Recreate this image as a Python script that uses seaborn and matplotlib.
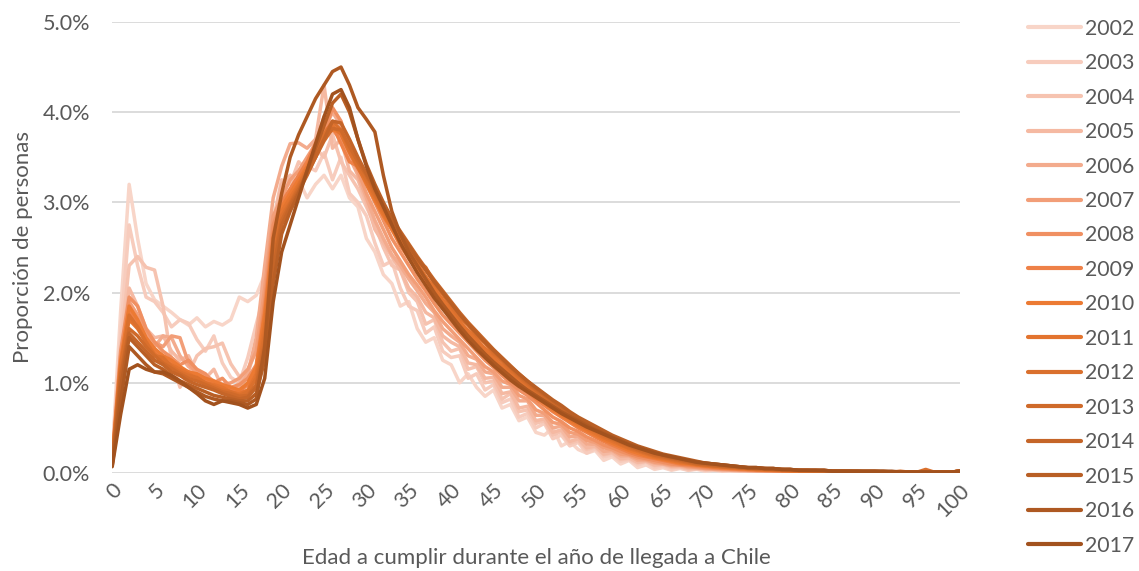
import numpy as np
import pandas as pd
import matplotlib
matplotlib.use("Agg")
import matplotlib.pyplot as plt
import seaborn as sns

# Edades 0..100 y proporción de personas (%) por año de llegada
edades = list(range(0, 101))
anios = ["2002", "2003", "2004", "2005", "2006", "2007", "2008", "2009",
         "2010", "2011", "2012", "2013", "2014", "2015", "2016", "2017"]

p2002 = [0.20, 1.80, 3.20, 2.60, 2.10, 1.92, 1.85, 1.78, 1.70, 1.64,
         1.72, 1.62, 1.68, 1.64, 1.70, 1.95, 1.90, 1.97, 2.20, 2.75,
         3.15, 3.05, 3.25, 3.05, 3.20, 3.30, 3.15, 3.30, 3.05, 2.95,
         2.60, 2.45, 2.20, 2.10, 1.85, 1.90, 1.60, 1.45, 1.50, 1.25,
         1.20, 1.00, 1.10, 0.95, 0.85, 0.92, 0.72, 0.76, 0.58, 0.62,
         0.45, 0.42, 0.50, 0.30, 0.35, 0.26, 0.22, 0.25, 0.14, 0.18,
         0.10, 0.14, 0.06, 0.09, 0.04, 0.06, 0.03, 0.05, 0.03, 0.04,
         0.02, 0.03, 0.02, 0.02, 0.01, 0.02, 0.01, 0.02, 0.01, 0.01,
         0.01, 0.01, 0.01, 0.01, 0.00, 0.01, 0.01, 0.00, 0.01, 0.00,
         0.00, 0.01, 0.00, 0.00, 0.01, 0.00, 0.00, 0.01, 0.00, 0.00,
         0.01]
p2003 = [0.18, 1.55, 2.75, 2.30, 1.95, 1.90, 1.78, 1.62, 1.70, 1.66,
         1.48, 1.35, 1.52, 1.22, 1.06, 1.00, 1.28, 1.65, 2.00, 2.65,
         3.10, 3.30, 3.20, 3.40, 3.35, 3.55, 3.25, 3.50, 3.10, 3.00,
         2.85, 2.55, 2.30, 2.35, 2.05, 1.85, 1.80, 1.55, 1.62, 1.35,
         1.28, 1.30, 1.05, 1.10, 0.92, 0.98, 0.78, 0.82, 0.62, 0.66,
         0.50, 0.55, 0.38, 0.42, 0.30, 0.34, 0.22, 0.27, 0.18, 0.20,
         0.13, 0.15, 0.09, 0.12, 0.06, 0.08, 0.04, 0.06, 0.03, 0.05,
         0.03, 0.04, 0.02, 0.03, 0.02, 0.02, 0.01, 0.02, 0.01, 0.02,
         0.01, 0.01, 0.01, 0.02, 0.01, 0.01, 0.00, 0.01, 0.01, 0.00,
         0.01, 0.00, 0.01, 0.00, 0.01, 0.00, 0.01, 0.00, 0.00, 0.01,
         0.01]
p2004 = [0.16, 1.40, 2.30, 2.40, 2.28, 2.25, 1.85, 1.25, 0.95, 1.10,
         1.30, 1.38, 1.40, 1.44, 1.21, 1.07, 1.12, 1.45, 2.10, 2.80,
         3.25, 3.20, 3.45, 3.35, 3.60, 3.50, 3.75, 3.45, 3.30, 3.15,
         2.95, 2.75, 2.50, 2.30, 2.25, 2.00, 1.90, 1.65, 1.70, 1.45,
         1.35, 1.38, 1.15, 1.18, 1.00, 1.02, 0.82, 0.88, 0.68, 0.70,
         0.55, 0.58, 0.42, 0.46, 0.33, 0.36, 0.26, 0.29, 0.20, 0.22,
         0.15, 0.16, 0.11, 0.13, 0.08, 0.09, 0.06, 0.07, 0.04, 0.05,
         0.04, 0.04, 0.03, 0.03, 0.02, 0.03, 0.02, 0.02, 0.02, 0.01,
         0.02, 0.01, 0.01, 0.01, 0.01, 0.01, 0.01, 0.01, 0.00, 0.01,
         0.01, 0.00, 0.01, 0.01, 0.00, 0.01, 0.00, 0.01, 0.00, 0.00,
         0.01]
p2005 = [0.15, 1.30, 2.05, 1.85, 1.60, 1.50, 1.52, 1.35, 1.25, 1.30,
         1.10, 1.05, 1.15, 0.95, 0.90, 1.00, 1.10, 1.40, 2.00, 2.75,
         3.20, 3.30, 3.15, 3.40, 3.70, 4.30, 3.60, 3.70, 3.35, 3.25,
         3.00, 2.70, 2.55, 2.40, 2.25, 2.05, 1.95, 1.78, 1.72, 1.52,
         1.45, 1.40, 1.22, 1.20, 1.05, 1.06, 0.88, 0.90, 0.72, 0.74,
         0.58, 0.60, 0.45, 0.48, 0.35, 0.38, 0.28, 0.30, 0.21, 0.23,
         0.16, 0.17, 0.12, 0.13, 0.09, 0.10, 0.07, 0.07, 0.05, 0.05,
         0.04, 0.04, 0.03, 0.03, 0.03, 0.02, 0.02, 0.02, 0.02, 0.02,
         0.01, 0.02, 0.01, 0.01, 0.01, 0.01, 0.01, 0.01, 0.01, 0.00,
         0.01, 0.01, 0.00, 0.01, 0.01, 0.00, 0.01, 0.00, 0.01, 0.00,
         0.02]
p2006 = [0.15, 1.25, 1.85, 1.70, 1.50, 1.40, 1.52, 1.50, 1.30, 1.18,
         1.12, 1.05, 1.00, 0.98, 0.93, 0.95, 1.10, 1.50, 2.30, 3.05,
         3.40, 3.65, 3.66, 3.60, 3.70, 3.80, 4.00, 3.85, 3.50, 3.30,
         3.05, 2.80, 2.60, 2.42, 2.30, 2.15, 2.02, 1.88, 1.78, 1.60,
         1.52, 1.45, 1.30, 1.26, 1.12, 1.10, 0.95, 0.95, 0.80, 0.80,
         0.64, 0.64, 0.50, 0.52, 0.40, 0.41, 0.32, 0.32, 0.24, 0.25,
         0.19, 0.19, 0.14, 0.14, 0.11, 0.10, 0.08, 0.08, 0.06, 0.06,
         0.05, 0.04, 0.04, 0.03, 0.03, 0.03, 0.02, 0.02, 0.02, 0.02,
         0.02, 0.01, 0.02, 0.01, 0.01, 0.01, 0.01, 0.01, 0.01, 0.01,
         0.01, 0.00, 0.01, 0.01, 0.00, 0.01, 0.01, 0.00, 0.00, 0.01,
         0.02]
p2007 = [0.16, 1.30, 1.90, 1.75, 1.55, 1.45, 1.40, 1.52, 1.50, 1.22,
         1.10, 1.08, 1.02, 0.98, 1.00, 1.05, 1.15, 1.35, 2.05, 2.85,
         3.05, 3.25, 3.35, 3.50, 3.65, 3.95, 3.80, 3.70, 3.55, 3.35,
         3.10, 2.90, 2.70, 2.50, 2.35, 2.20, 2.08, 1.95, 1.80, 1.68,
         1.58, 1.48, 1.38, 1.28, 1.18, 1.12, 1.02, 0.98, 0.86, 0.82,
         0.70, 0.66, 0.56, 0.54, 0.45, 0.43, 0.36, 0.34, 0.28, 0.26,
         0.21, 0.20, 0.16, 0.15, 0.12, 0.11, 0.09, 0.09, 0.07, 0.06,
         0.05, 0.05, 0.04, 0.04, 0.03, 0.03, 0.03, 0.02, 0.02, 0.02,
         0.02, 0.02, 0.01, 0.01, 0.01, 0.01, 0.01, 0.01, 0.01, 0.01,
         0.01, 0.01, 0.00, 0.01, 0.01, 0.00, 0.01, 0.00, 0.01, 0.00,
         0.02]
p2008 = [0.15, 1.35, 1.95, 1.85, 1.60, 1.45, 1.35, 1.28, 1.20, 1.25,
         1.15, 1.10, 1.00, 1.05, 0.95, 0.98, 1.05, 1.20, 1.90, 2.75,
         3.00, 3.10, 3.20, 3.35, 3.50, 3.75, 4.05, 3.90, 3.60, 3.40,
         3.20, 3.00, 2.80, 2.60, 2.45, 2.30, 2.15, 2.02, 1.88, 1.75,
         1.65, 1.55, 1.45, 1.35, 1.25, 1.17, 1.08, 1.00, 0.92, 0.86,
         0.78, 0.70, 0.62, 0.57, 0.50, 0.46, 0.40, 0.36, 0.31, 0.28,
         0.24, 0.21, 0.18, 0.16, 0.14, 0.12, 0.10, 0.09, 0.08, 0.07,
         0.06, 0.05, 0.05, 0.04, 0.04, 0.03, 0.03, 0.03, 0.02, 0.02,
         0.02, 0.02, 0.02, 0.01, 0.01, 0.01, 0.01, 0.01, 0.01, 0.01,
         0.01, 0.01, 0.01, 0.01, 0.00, 0.01, 0.01, 0.00, 0.01, 0.01,
         0.02]
p2009 = [0.14, 1.20, 1.80, 1.65, 1.45, 1.35, 1.30, 1.22, 1.15, 1.12,
         1.08, 1.02, 1.00, 0.95, 0.92, 0.90, 0.98, 1.15, 1.80, 2.65,
         3.00, 3.15, 3.30, 3.45, 3.65, 3.80, 3.85, 3.65, 3.45, 3.40,
         3.30, 3.10, 2.90, 2.70, 2.52, 2.38, 2.25, 2.10, 1.97, 1.83,
         1.72, 1.62, 1.52, 1.42, 1.32, 1.22, 1.14, 1.06, 0.98, 0.90,
         0.82, 0.75, 0.68, 0.62, 0.56, 0.50, 0.45, 0.40, 0.35, 0.31,
         0.27, 0.23, 0.20, 0.18, 0.16, 0.14, 0.12, 0.10, 0.09, 0.08,
         0.07, 0.06, 0.05, 0.05, 0.04, 0.04, 0.03, 0.03, 0.03, 0.02,
         0.02, 0.02, 0.02, 0.02, 0.01, 0.01, 0.01, 0.01, 0.01, 0.01,
         0.01, 0.01, 0.01, 0.01, 0.01, 0.01, 0.00, 0.01, 0.01, 0.00,
         0.02]
p2010 = [0.15, 1.25, 1.85, 1.70, 1.50, 1.38, 1.30, 1.25, 1.18, 1.12,
         1.10, 1.05, 1.02, 0.98, 0.95, 0.92, 1.00, 1.18, 1.75, 2.60,
         2.95, 3.10, 3.25, 3.40, 3.60, 3.75, 3.80, 3.78, 3.60, 3.40,
         3.20, 3.02, 2.85, 2.70, 2.55, 2.42, 2.28, 2.15, 2.00, 1.88,
         1.75, 1.65, 1.55, 1.45, 1.35, 1.26, 1.17, 1.08, 1.00, 0.93,
         0.85, 0.78, 0.70, 0.64, 0.58, 0.52, 0.47, 0.42, 0.37, 0.33,
         0.29, 0.25, 0.22, 0.19, 0.17, 0.15, 0.13, 0.11, 0.10, 0.09,
         0.08, 0.07, 0.06, 0.05, 0.05, 0.04, 0.04, 0.03, 0.03, 0.03,
         0.02, 0.02, 0.02, 0.02, 0.02, 0.01, 0.01, 0.01, 0.01, 0.01,
         0.01, 0.01, 0.01, 0.01, 0.01, 0.01, 0.01, 0.00, 0.01, 0.01,
         0.02]
p2011 = [0.14, 1.15, 1.70, 1.60, 1.45, 1.32, 1.25, 1.20, 1.15, 1.10,
         1.05, 1.00, 0.98, 0.95, 0.90, 0.88, 0.92, 1.10, 1.65, 2.55,
         2.90, 3.05, 3.20, 3.38, 3.55, 3.70, 3.85, 3.75, 3.55, 3.38,
         3.22, 3.05, 2.88, 2.72, 2.58, 2.45, 2.32, 2.18, 2.05, 1.92,
         1.80, 1.68, 1.58, 1.48, 1.38, 1.28, 1.19, 1.10, 1.02, 0.95,
         0.87, 0.80, 0.73, 0.66, 0.60, 0.54, 0.49, 0.44, 0.39, 0.35,
         0.31, 0.27, 0.24, 0.21, 0.18, 0.16, 0.14, 0.12, 0.11, 0.09,
         0.08, 0.07, 0.07, 0.06, 0.05, 0.05, 0.04, 0.04, 0.03, 0.03,
         0.03, 0.02, 0.02, 0.02, 0.02, 0.02, 0.01, 0.01, 0.01, 0.01,
         0.01, 0.01, 0.01, 0.01, 0.01, 0.01, 0.01, 0.01, 0.01, 0.01,
         0.02]
p2012 = [0.14, 1.20, 1.75, 1.62, 1.45, 1.30, 1.28, 1.18, 1.12, 1.08,
         1.06, 1.00, 0.96, 0.92, 0.90, 0.86, 0.90, 1.05, 1.55, 2.45,
         2.85, 3.00, 3.18, 3.35, 3.55, 3.75, 3.90, 3.80, 3.58, 3.40,
         3.25, 3.08, 2.92, 2.75, 2.60, 2.50, 2.35, 2.28, 2.10, 1.98,
         1.85, 1.72, 1.64, 1.52, 1.44, 1.32, 1.24, 1.14, 1.06, 0.98,
         0.90, 0.83, 0.75, 0.69, 0.62, 0.56, 0.51, 0.46, 0.41, 0.37,
         0.32, 0.28, 0.25, 0.22, 0.19, 0.17, 0.15, 0.13, 0.11, 0.10,
         0.09, 0.08, 0.07, 0.06, 0.06, 0.05, 0.04, 0.04, 0.04, 0.03,
         0.03, 0.03, 0.02, 0.02, 0.02, 0.02, 0.02, 0.01, 0.01, 0.01,
         0.01, 0.01, 0.01, 0.02, 0.01, 0.01, 0.04, 0.01, 0.01, 0.01,
         0.02]
p2013 = [0.13, 1.10, 1.60, 1.52, 1.40, 1.30, 1.22, 1.16, 1.10, 1.05,
         1.02, 0.98, 0.94, 0.90, 0.88, 0.85, 0.86, 0.98, 1.45, 2.35,
         2.80, 2.98, 3.15, 3.32, 3.50, 3.68, 3.82, 3.80, 3.62, 3.45,
         3.30, 3.12, 2.95, 2.80, 2.65, 2.52, 2.38, 2.25, 2.12, 2.00,
         1.88, 1.76, 1.65, 1.55, 1.45, 1.35, 1.26, 1.17, 1.08, 1.00,
         0.92, 0.85, 0.78, 0.71, 0.64, 0.58, 0.53, 0.48, 0.43, 0.38,
         0.34, 0.30, 0.26, 0.23, 0.20, 0.18, 0.16, 0.14, 0.12, 0.10,
         0.09, 0.08, 0.07, 0.07, 0.06, 0.05, 0.05, 0.04, 0.04, 0.03,
         0.03, 0.03, 0.03, 0.02, 0.02, 0.02, 0.02, 0.02, 0.01, 0.01,
         0.01, 0.01, 0.01, 0.01, 0.01, 0.01, 0.01, 0.01, 0.01, 0.01,
         0.02]
p2014 = [0.12, 1.05, 1.55, 1.45, 1.35, 1.25, 1.20, 1.12, 1.08, 1.02,
         0.98, 0.95, 0.92, 0.88, 0.85, 0.82, 0.84, 0.95, 1.35, 2.25,
         2.75, 2.95, 3.12, 3.30, 3.50, 3.70, 3.90, 3.88, 3.70, 3.50,
         3.32, 3.15, 2.98, 2.82, 2.68, 2.54, 2.40, 2.27, 2.14, 2.02,
         1.90, 1.78, 1.67, 1.57, 1.47, 1.37, 1.28, 1.19, 1.10, 1.02,
         0.94, 0.87, 0.80, 0.73, 0.66, 0.60, 0.55, 0.50, 0.45, 0.40,
         0.36, 0.32, 0.28, 0.25, 0.22, 0.19, 0.17, 0.15, 0.13, 0.11,
         0.10, 0.09, 0.08, 0.07, 0.06, 0.06, 0.05, 0.05, 0.04, 0.04,
         0.03, 0.03, 0.03, 0.03, 0.02, 0.02, 0.02, 0.02, 0.02, 0.01,
         0.01, 0.01, 0.01, 0.01, 0.01, 0.01, 0.01, 0.01, 0.01, 0.01,
         0.02]
p2015 = [0.10, 0.95, 1.50, 1.40, 1.30, 1.20, 1.15, 1.08, 1.02, 0.98,
         0.94, 0.90, 0.86, 0.84, 0.82, 0.80, 0.80, 0.88, 1.25, 2.10,
         2.65, 2.90, 3.10, 3.35, 3.60, 3.85, 4.10, 4.20, 4.00, 3.70,
         3.42, 3.20, 3.00, 2.82, 2.66, 2.52, 2.38, 2.25, 2.12, 2.00,
         1.88, 1.76, 1.65, 1.55, 1.45, 1.36, 1.27, 1.18, 1.10, 1.02,
         0.95, 0.88, 0.81, 0.75, 0.68, 0.62, 0.57, 0.52, 0.47, 0.42,
         0.38, 0.34, 0.30, 0.27, 0.24, 0.21, 0.19, 0.17, 0.15, 0.13,
         0.11, 0.10, 0.09, 0.08, 0.07, 0.06, 0.06, 0.05, 0.05, 0.04,
         0.04, 0.03, 0.03, 0.03, 0.03, 0.02, 0.02, 0.02, 0.02, 0.02,
         0.02, 0.01, 0.01, 0.01, 0.01, 0.01, 0.01, 0.01, 0.01, 0.01,
         0.02]
p2016 = [0.08, 0.80, 1.40, 1.30, 1.20, 1.12, 1.10, 1.05, 1.00, 0.95,
         0.90, 0.85, 0.82, 0.80, 0.80, 0.78, 0.76, 0.82, 1.40, 2.60,
         3.10, 3.50, 3.75, 3.95, 4.15, 4.30, 4.45, 4.50, 4.30, 4.05,
         3.92, 3.78, 3.30, 2.90, 2.65, 2.45, 2.30, 2.15, 2.00, 1.87,
         1.75, 1.63, 1.52, 1.42, 1.32, 1.23, 1.15, 1.07, 0.99, 0.92,
         0.86, 0.80, 0.74, 0.68, 0.63, 0.58, 0.53, 0.48, 0.44, 0.40,
         0.36, 0.32, 0.29, 0.26, 0.23, 0.20, 0.18, 0.16, 0.14, 0.12,
         0.11, 0.10, 0.09, 0.08, 0.07, 0.06, 0.06, 0.05, 0.05, 0.04,
         0.04, 0.03, 0.03, 0.03, 0.03, 0.02, 0.02, 0.02, 0.02, 0.02,
         0.02, 0.02, 0.01, 0.01, 0.01, 0.01, 0.01, 0.01, 0.01, 0.01,
         0.02]
p2017 = [0.07, 0.65, 1.15, 1.20, 1.15, 1.12, 1.12, 1.08, 1.02, 0.95,
         0.88, 0.80, 0.76, 0.80, 0.78, 0.76, 0.72, 0.76, 1.05, 1.90,
         2.45, 2.75, 3.05, 3.35, 3.65, 3.95, 4.20, 4.25, 4.05, 3.70,
         3.40, 3.15, 2.95, 2.75, 2.55, 2.38, 2.22, 2.08, 1.94, 1.82,
         1.70, 1.58, 1.47, 1.37, 1.28, 1.19, 1.11, 1.03, 0.96, 0.90,
         0.84, 0.78, 0.72, 0.66, 0.61, 0.56, 0.51, 0.47, 0.43, 0.39,
         0.35, 0.31, 0.28, 0.25, 0.22, 0.20, 0.18, 0.16, 0.14, 0.12,
         0.11, 0.10, 0.09, 0.08, 0.07, 0.06, 0.06, 0.05, 0.05, 0.04,
         0.04, 0.03, 0.03, 0.03, 0.03, 0.02, 0.02, 0.02, 0.02, 0.02,
         0.02, 0.02, 0.02, 0.01, 0.01, 0.01, 0.01, 0.01, 0.01, 0.01,
         0.02]

colores = ["#F8D5C8", "#F7CCBD", "#F6C3B0", "#F5B9A2", "#F3AB8D", "#F29E78",
           "#F09062", "#EE8148", "#EC7A33", "#E3742F", "#DA702D", "#CF6A2A",
           "#C56528", "#B95F25", "#AE5922", "#A2521E"]

series = [p2002, p2003, p2004, p2005, p2006, p2007, p2008, p2009,
          p2010, p2011, p2012, p2013, p2014, p2015, p2016, p2017]

df = pd.DataFrame({
    "edad": edades * len(anios),
    "anio": [a for a in anios for _ in edades],
    "prop": [v for s in series for v in s],
})

sns.set_style("white")
plt.rcParams["font.family"] = ["Lato", "DejaVu Sans"]
gris = "#595959"

fig = plt.figure(figsize=(11.39, 5.71), dpi=100)
ax = fig.add_axes([0.0985, 0.1716, 0.744, 0.79])

sns.lineplot(data=df, x="edad", y="prop", hue="anio", hue_order=anios,
             palette=colores, linewidth=2.5, ax=ax, legend=False)

ax.set_xlim(0, 100)
ax.set_ylim(0, 5)
ax.set_xticks(range(0, 101, 5))
ax.set_yticks([0, 1, 2, 3, 4, 5])
ax.set_yticklabels([f"{v:.1f}%" for v in range(0, 6)], fontsize=15.5, color=gris)
ax.set_xticklabels([str(v) for v in range(0, 101, 5)], fontsize=15.5, color=gris,
                   rotation=45, ha="right", va="top", rotation_mode="anchor")
ax.tick_params(axis="both", length=0)
ax.tick_params(axis="x", pad=5)
ax.tick_params(axis="y", pad=16)
ax.grid(axis="y", color="#D9D9D9", linewidth=1.3)
ax.set_axisbelow(True)
for s in ax.spines.values():
    s.set_visible(False)

ax.set_xlabel("Edad a cumplir durante el año de llegada a Chile", fontsize=16,
              color=gris, labelpad=20)
ax.set_ylabel("Proporción de personas", fontsize=16, color=gris)
ax.yaxis.set_label_coords(-0.093, 0.5)

handles = [plt.Line2D([], [], color=c, linewidth=3) for c in colores]
fig.legend(handles, anios, loc="upper left", bbox_to_anchor=(0.895, 0.982),
           frameon=False, fontsize=15.3, labelcolor=gris, handlelength=2.5,
           handletextpad=0.2, labelspacing=0.68, borderaxespad=0)

fig.savefig("out.png", dpi=100)
